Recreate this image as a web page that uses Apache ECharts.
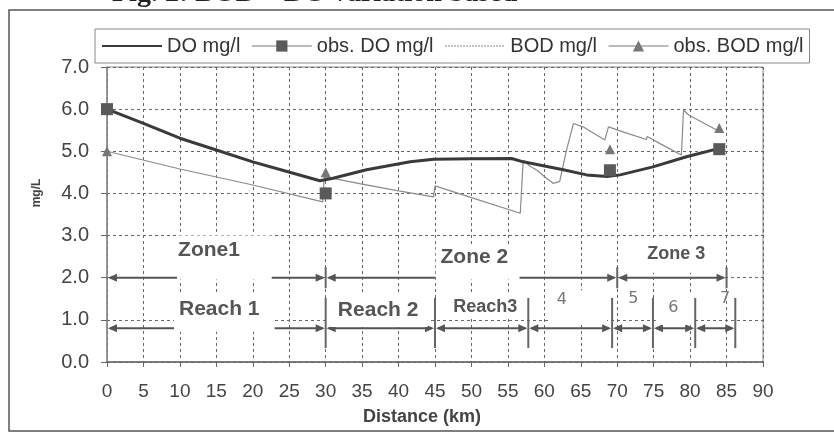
<!DOCTYPE html>
<html>
<head>
<meta charset="utf-8">
<script src="https://cdn.jsdelivr.net/npm/echarts@6/dist/echarts.min.js"></script>
<style>
html, body { margin: 0; padding: 0; background: #fff; }
#main { width: 834px; height: 440px; }
</style>
</head>
<body>
<div id="main"></div>
<script>
// simulated DO along the river (km / mg/l)
var doDist = [0, 5, 10, 15, 20, 24.7, 29.2, 31, 35.6, 41.6, 44.8, 50, 55.5, 57.1, 62.6, 65.8, 68.6, 70.4, 74.9, 79.5, 84];
var doVal  = [6.0, 5.66, 5.31, 5.03, 4.75, 4.52, 4.30, 4.36, 4.56, 4.75, 4.81, 4.82, 4.83, 4.75, 4.56, 4.44, 4.40, 4.44, 4.63, 4.87, 5.07];

// simulated BOD, jumps where loads come in
var bodDist = [0, 10, 20, 29.6, 29.8, 35, 40, 44.8, 45, 50, 56.7, 57.1, 58, 59, 60, 61.2, 62.1, 63, 64, 65.3, 68.3, 68.8, 71, 74, 74.1, 76, 78.8, 79.1, 79.8, 83.6];
var bodVal  = [5.0, 4.58, 4.2, 3.8, 4.4, 4.22, 4.06, 3.92, 4.18, 3.9, 3.53, 4.79, 4.65, 4.55, 4.4, 4.24, 4.28, 5.0, 5.66, 5.58, 5.27, 5.58, 5.45, 5.28, 5.35, 5.17, 4.91, 5.98, 5.86, 5.51];

// observations
var obsDist = [0, 30, 69, 84];
var obsDO   = [6.0, 4.0, 4.55, 5.05];
var obsBOD  = [5.0, 4.5, 5.05, 5.55];

var yTicks = ['0.0', '1.0', '2.0', '3.0', '4.0', '5.0', '6.0', '7.0'];

// zone / reach limits (km)
var zoneBounds  = [0, 30, 70, 85];
var reachBounds = [0, 30, 45, 57.8, 69.3, 74.9, 80.7, 86.2];
var zoneNames   = ['Zone1', 'Zone 2', 'Zone 3'];
var reachNames  = ['Reach 1', 'Reach 2', 'Reach3', '4', '5', '6', '7'];

var zoneY = 2.0, reachY = 0.8;

// where the labels sit, in chart units
var notes = [
    {t: zoneNames[0], x: 14, y: 2.65, size: 21},
    {t: zoneNames[1], x: 50.4, y: 2.49, size: 21},
    {t: zoneNames[2], x: 78.1, y: 2.56, size: 18},
    {t: reachNames[0], x: 15.4, y: 1.26, size: 21},
    {t: reachNames[1], x: 37.2, y: 1.23, size: 21},
    {t: reachNames[2], x: 51.9, y: 1.31, size: 18},
    {t: reachNames[3], x: 62.4, y: 1.47, size: 16, light: true},
    {t: reachNames[4], x: 72.2, y: 1.5, size: 16, light: true},
    {t: reachNames[5], x: 77.7, y: 1.28, size: 16, light: true},
    {t: reachNames[6], x: 84.8, y: 1.5, size: 16, light: true}
];
// white label boxes hiding the grid: [x1, x2, y1, y2]
var masks = [
    [9.6, 22.6, 1.96, 3.0],
    [45.1, 56.6, 1.96, 2.8],
    [73.6, 82.4, 2.12, 2.95],
    [9.2, 23.0, 0.72, 1.62],
    [30.4, 44, 0.83, 1.62],
    [45.5, 57.5, 1.03, 1.6],
    [60.5, 68.6, 0.9, 1.7],
    [75.3, 80.4, 0.88, 1.6]
];

function pairs(xs, ys) {
    return xs.map(function (x, i) { return [x, ys[i]]; });
}
function spans(b, y) {
    var out = [];
    for (var i = 0; i < b.length - 1; i++) out.push([b[i], b[i + 1], y]);
    return out;
}
function marks(b, y1, y2) {
    return b.slice(1).map(function (x) { return [x, y1, y2]; });
}

var font = 'Liberation Sans, Arial, sans-serif';
var ink = '#555';

function renderArrow(params, api) {
    var a = api.coord([api.value(0), api.value(2)]);
    var b = api.coord([api.value(1), api.value(2)]);
    var L = 9, W = 4;
    return {
        type: 'group',
        children: [
            {type: 'line', shape: {x1: a[0] + 3, y1: a[1], x2: b[0] - 3, y2: b[1]}, style: {stroke: ink, lineWidth: 2}},
            {type: 'polygon', shape: {points: [[a[0] + 1, a[1]], [a[0] + 1 + L, a[1] - W], [a[0] + 1 + L, a[1] + W]]}, style: {fill: ink}},
            {type: 'polygon', shape: {points: [[b[0] - 1, b[1]], [b[0] - 1 - L, b[1] - W], [b[0] - 1 - L, b[1] + W]]}, style: {fill: ink}}
        ]
    };
}
function renderTick(params, api) {
    var a = api.coord([api.value(0), api.value(1)]);
    var b = api.coord([api.value(0), api.value(2)]);
    return {type: 'line', shape: {x1: a[0], y1: a[1], x2: b[0], y2: b[1]}, style: {stroke: '#666', lineWidth: 2}};
}
function renderMask(params, api) {
    var a = api.coord([api.value(0), api.value(3)]);
    var b = api.coord([api.value(1), api.value(2)]);
    return {type: 'rect', shape: {x: a[0], y: a[1], width: b[0] - a[0], height: b[1] - a[1]}, style: {fill: '#fff'}};
}
function renderNote(params, api) {
    var n = notes[params.dataIndex];
    var p = api.coord([n.x, n.y]);
    return {
        type: 'text', x: p[0], y: p[1],
        style: {
            text: n.t, fontSize: n.size, fontWeight: n.light ? 'normal' : 'bold',
            fontFamily: n.light ? 'DejaVu Sans, sans-serif' : font,
            fill: n.light ? '#777' : '#555', align: 'center', verticalAlign: 'middle'
        }
    };
}

var chart = echarts.init(document.getElementById('main'));
chart.setOption({
    animation: false,
    backgroundColor: '#fff',
    grid: {left: 107, right: 71, top: 67, bottom: 78, show: true, borderColor: '#888', borderWidth: 1},
    legend: {
        left: 95, top: 29, padding: [7, 6], itemGap: 11, itemWidth: 60, itemHeight: 14,
        borderColor: '#888', borderWidth: 1, backgroundColor: '#fff',
        textStyle: {fontSize: 20, color: '#333', fontFamily: font},
        data: [
            {name: 'DO mg/l', itemStyle: {opacity: 0, borderWidth: 0}},
            {name: 'obs. DO mg/l', lineStyle: {width: 1, color: '#777', opacity: 1}},
            {name: 'BOD mg/l', itemStyle: {opacity: 0, borderWidth: 0}, lineStyle: {type: 'dotted', width: 1.5, color: '#999'}},
            {name: 'obs. BOD mg/l', lineStyle: {width: 1, color: '#777', opacity: 1}}
        ]
    },
    xAxis: {
        type: 'value', min: 0, max: 90, interval: 5,
        axisLine: {lineStyle: {color: '#666', width: 1.5}},
        axisTick: {length: 5, lineStyle: {color: '#666'}},
        axisLabel: {fontSize: 19, color: '#444', fontFamily: font, margin: 20},
        splitLine: {lineStyle: {color: '#666', type: [3, 3], width: 1}}
    },
    yAxis: {
        type: 'value', min: 0, max: 7, interval: 1,
        axisLine: {show: true, lineStyle: {color: '#888', width: 1.5}},
        axisTick: {show: true, length: 6, lineStyle: {color: '#666'}},
        axisLabel: {fontSize: 20, color: '#444', fontFamily: font, margin: 18,
            formatter: function (v) { return yTicks[Math.round(v)]; }},
        splitLine: {lineStyle: {color: '#666', type: [3, 3], width: 1}}
    },
    graphic: [
        {type: 'rect', shape: {x: 9, y: 10, width: 840, height: 421}, style: {fill: 'none', stroke: '#555', lineWidth: 1.5}, z: 100},
        {type: 'text', left: 112, top: -20, style: {text: 'Fig. 2: BOD \u2013 DO variation based', fontSize: 28, fontWeight: 'bold', fontFamily: 'Liberation Serif, serif', fill: '#222'}},
        {type: 'text', x: 37, y: 193, rotation: Math.PI / 2, style: {text: 'mg/L', fontSize: 12, fontWeight: 'bold', fontFamily: font, fill: '#444', align: 'center', verticalAlign: 'middle'}},
        {type: 'text', x: 422, y: 417, style: {text: 'Distance (km)', fontSize: 18, fontWeight: 'bold', fontFamily: font, fill: '#444', align: 'center', verticalAlign: 'middle'}}
    ],
    series: [
        {type: 'custom', name: 'zones', z: 3, renderItem: renderArrow, encode: {x: [0, 1], y: 2},
            data: spans(zoneBounds, zoneY).concat(spans(reachBounds, reachY))},
        {type: 'custom', name: 'limits', z: 3, renderItem: renderTick, encode: {x: 0, y: [1, 2]},
            data: marks(zoneBounds, 1.75, 2.25).concat(marks(reachBounds, 0.33, 1.52))},
        {type: 'custom', name: 'boxes', z: 4, renderItem: renderMask, encode: {x: [0, 1], y: [2, 3]}, data: masks},
        {type: 'custom', name: 'notes', z: 5, renderItem: renderNote, encode: {x: 0, y: 1},
            data: notes.map(function (n) { return [n.x, n.y]; })},
        {
            name: 'BOD mg/l', type: 'line', z: 6, symbol: 'none',
            lineStyle: {color: '#8a8a8a', width: 1.2},
            itemStyle: {color: '#8a8a8a'},
            data: pairs(bodDist, bodVal)
        },
        {
            name: 'DO mg/l', type: 'line', z: 7, symbol: 'none',
            lineStyle: {color: '#3a3a3a', width: 3},
            itemStyle: {color: '#3a3a3a'},
            data: pairs(doDist, doVal)
        },
        {
            name: 'obs. BOD mg/l', type: 'line', z: 8, symbol: 'triangle', symbolSize: 10, showSymbol: true,
            lineStyle: {width: 0, opacity: 0},
            itemStyle: {color: '#777'},
            data: pairs(obsDist, obsBOD)
        },
        {
            name: 'obs. DO mg/l', type: 'line', z: 9, symbol: 'rect', symbolSize: 12, showSymbol: true,
            lineStyle: {width: 0, opacity: 0},
            itemStyle: {color: '#5a5a5a'},
            data: pairs(obsDist, obsDO)
        }
    ]
});
</script>
</body>
</html>
